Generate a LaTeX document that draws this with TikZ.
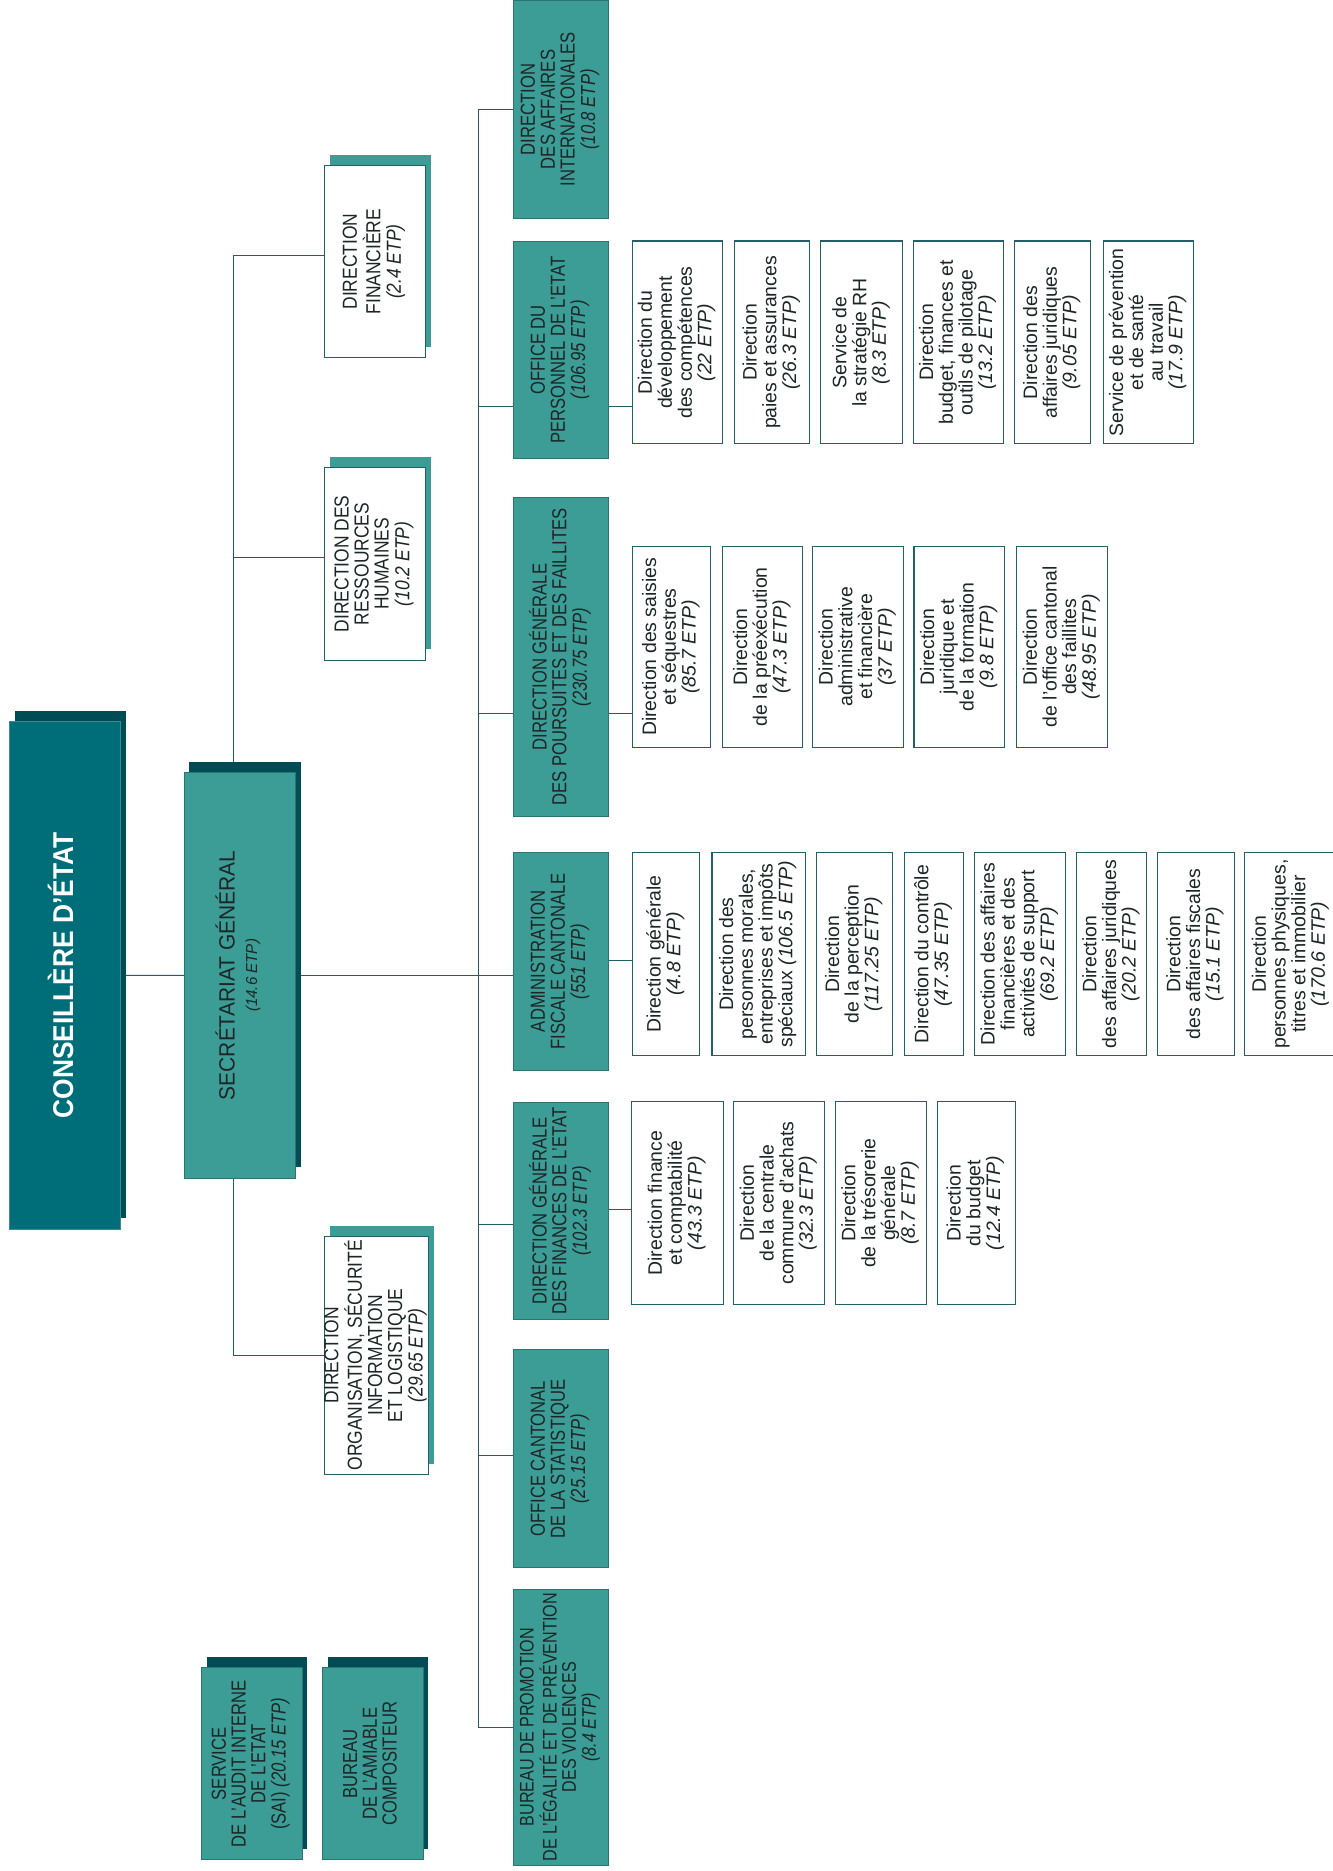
\documentclass[tikz,border=0pt]{standalone}
\usepackage{fontspec}
\usepackage{graphicx}
\setmainfont{Liberation Sans}
\newfontfamily\capf[FakeStretch=0.82]{Liberation Sans}
\newfontfamily\capw[FakeStretch=0.86]{Liberation Sans}
\newfontfamily\sgf[FakeStretch=0.95]{Liberation Sans}
\newfontfamily\ttlf[FakeStretch=0.92]{Liberation Sans}
\usetikzlibrary{backgrounds,shadows}
\definecolor{ceC}{HTML}{006E78}
\definecolor{ceB}{HTML}{3F8A92}
\definecolor{sdark}{HTML}{004C55}
\definecolor{tealc}{HTML}{3C9D96}
\definecolor{tealb}{HTML}{2B7570}
\definecolor{linec}{HTML}{1F5E66}
\definecolor{subb}{HTML}{22606A}
\definecolor{txtc}{HTML}{1C2626}
\newcommand\vtext[1]{\rotatebox{90}{\begin{tabular}{@{}c@{}}#1\end{tabular}}}
\begin{document}
\begin{tikzpicture}[x=1pt,y=-1pt,
  sz/.style 2 args={minimum width=#1pt, minimum height=#2pt},
  basebox/.style={rectangle, anchor=north west, inner sep=0pt, outer sep=0pt, line width=0.8pt},
  cebox/.style={basebox, fill=ceC, draw=ceB, text=white, font=\ttlf\bfseries\fontsize{24}{26}\selectfont, darkshadow},
  sgbox/.style={basebox, fill=tealc, draw=tealb, text=txtc, font=\sgf\fontsize{18.5}{19}\selectfont, darkshadow},
  tbox/.style={basebox, fill=tealc, draw=tealb, text=txtc, font=\capf\fontsize{17}{16}\selectfont},
  wbox/.style={basebox, fill=white, draw=subb, text=txtc, font=\capw\fontsize{17}{16.5}\selectfont, tealshadow},
  sub/.style={basebox, fill=white, draw=subb, line width=0.9pt, text=txtc, font=\fontsize{16.3}{15.6}\selectfont},
  darkshadow/.style={drop shadow={shadow xshift=4.5pt, shadow yshift=9pt, fill=sdark, opacity=1}},
  tealshadow/.style={drop shadow={shadow xshift=4.5pt, shadow yshift=9pt, fill=tealc, opacity=1}},
  conn/.style={draw=linec, line width=0.9pt}
]
\useasboundingbox (0,0) rectangle (1117,1568);

% top levels
\node[cebox, sz={93.4}{425.3}] (ce) at (7.8,604.7) {\vtext{CONSEILLÈRE D’ÉTAT}};
\node[sgbox, sz={93.1}{339.6}] (sg) at (154.3,647.6)
  {\vtext{SECRÉTARIAT GÉNÉRAL\\ \fontsize{13.3}{15}\selectfont\itshape (14.6 ETP)}};

% staff boxes
\node[wbox, sz={84.4}{160.7}] (df) at (271.9,138.9)
  {\vtext{DIRECTION\\FINANCIÈRE\\\textit{(2.4 ETP)}}};
\node[wbox, sz={84.4}{161}] (drh) at (271.9,392.1)
  {\vtext{DIRECTION DES\\RESSOURCES\\HUMAINES\\\textit{(10.2 ETP)}}};
\node[wbox, sz={84.7}{199.5}] (dosil) at (271.8,1036.1)
  {\vtext{DIRECTION\\ORGANISATION, SÉCURITÉ\\INFORMATION\\ET LOGISTIQUE\\\textit{(29.65 ETP)}}};
\node[tbox, darkshadow, sz={84.5}{161.2}] (sai) at (168.6,1397.5)
  {\vtext{SERVICE\\DE L’AUDIT INTERNE\\DE L’ETAT\\(SAI) \textit{(20.15 ETP)}}};
\node[tbox, darkshadow, sz={84.1}{161.2}] (bac) at (270.4,1397.5)
  {\vtext{BUREAU\\DE L’AMIABLE\\COMPOSITEUR}};

% column of directorates
\node[tbox, sz={80}{182.5}] (dai) at (430,0.5)
  {\vtext{DIRECTION\\DES AFFAIRES\\INTERNATIONALES\\\textit{(10.8 ETP)}}};
\node[tbox, sz={80}{182}] (ope) at (430,202.2)
  {\vtext{OFFICE DU\\PERSONNEL DE L’ETAT\\\textit{(106.95 ETP)}}};
\node[tbox, sz={80}{268}] (dgpf) at (430,416.6)
  {\vtext{DIRECTION GÉNÉRALE\\DES POURSUITES ET DES FAILLITES\\\textit{(230.75 ETP)}}};
\node[tbox, sz={80}{183}] (afc) at (430,714.3)
  {\vtext{ADMINISTRATION\\FISCALE CANTONALE\\\textit{(551 ETP)}}};
\node[tbox, sz={80}{182}] (dgfe) at (430,924)
  {\vtext{DIRECTION GÉNÉRALE\\DES FINANCES DE L’ETAT\\\textit{(102.3 ETP)}}};
\node[tbox, sz={80}{183}] (ocstat) at (430,1131)
  {\vtext{OFFICE CANTONAL\\DE LA STATISTIQUE\\\textit{(25.15 ETP)}}};
\node[tbox, sz={80}{231}, font=\capf\fontsize{16.5}{16}\selectfont] (bpev) at (430,1332)
  {\vtext{BUREAU DE PROMOTION\\DE L’ÉGALITÉ ET DE PRÉVENTION\\DES VIOLENCES\\\textit{(8.4 ETP)}}};

% OPE sub-units
\node[sub, sz={75.7}{170}] (ope1) at (529.9,202) {\vtext{Direction du\\développement\\des compétences\\\textit{(22 ETP)}}};
\node[sub, sz={63.3}{170}] (ope2) at (615.4,202) {\vtext{Direction\\paies et assurances\\\textit{(26.3 ETP)}}};
\node[sub, sz={68.6}{170}] (ope3) at (688,202) {\vtext{Service de\\la stratégie RH\\\textit{(8.3 ETP)}}};
\node[sub, sz={75.2}{170}] (ope4) at (765.6,202) {\vtext{Direction\\budget, finances et\\outils de pilotage\\\textit{(13.2 ETP)}}};
\node[sub, sz={63.7}{170}] (ope5) at (850.2,202) {\vtext{Direction des\\affaires juridiques\\\textit{(9.05 ETP)}}};
\node[sub, sz={75.7}{170}] (ope6) at (924.6,202) {\vtext{Service de prévention\\et de santé\\au travail\\\textit{(17.9 ETP)}}};

% DGPF sub-units
\node[sub, sz={65.1}{168.6}] (dgpf1) at (530.3,457.7) {\vtext{Direction des saisies\\et séquestres\\\textit{(85.7 ETP)}}};
\node[sub, sz={67.7}{168.6}] (dgpf2) at (605.2,457.7) {\vtext{Direction\\de la préexécution\\\textit{(47.3 ETP)}}};
\node[sub, sz={76.2}{168.6}] (dgpf3) at (680.9,457.7) {\vtext{Direction\\administrative\\et financière\\\textit{(37 ETP)}}};
\node[sub, sz={76.2}{168.6}] (dgpf4) at (766,457.7) {\vtext{Direction\\juridique et\\de la formation\\\textit{(9.8 ETP)}}};
\node[sub, sz={76.2}{168.6}] (dgpf5) at (852,457.7) {\vtext{Direction\\de l’office cantonal\\des faillites\\\textit{(48.95 ETP)}}};

% AFC sub-units
\node[sub, sz={56.6}{169.5}] (afc1) at (529.9,714.8) {\vtext{Direction générale\\\textit{(4.8 ETP)}}};
\node[sub, sz={78}{169.5}] (afc2) at (596.7,714.8) {\vtext{Direction des\\personnes morales,\\entreprises et impôts\\spéciaux \textit{(106.5 ETP)}}};
\node[sub, sz={64.2}{169.5}] (afc3) at (684,714.8) {\vtext{Direction\\de la perception\\\textit{(117.25 ETP)}}};
\node[sub, sz={49.4}{169.5}] (afc4) at (758,714.8) {\vtext{Direction du contrôle\\\textit{(47.35 ETP)}}};
\node[sub, sz={76.2}{169.5}] (afc5) at (816.8,714.8) {\vtext{Direction des affaires\\financières et des\\activités de support\\\textit{(69.2 ETP)}}};
\node[sub, sz={58.8}{169.5}] (afc6) at (902.3,714.8) {\vtext{Direction\\des affaires juridiques\\\textit{(20.2 ETP)}}};
\node[sub, sz={64.2}{169.5}] (afc7) at (970,714.8) {\vtext{Direction\\des affaires fiscales\\\textit{(15.1 ETP)}}};
\node[sub, sz={78}{169.5}] (afc8) at (1043.1,714.8) {\vtext{Direction\\personnes physiques,\\titres et immobilier\\\textit{(170.6 ETP)}}};

% DGFE sub-units
\node[sub, sz={76.4}{169.7}] (dgfe1) at (529.6,923.4) {\vtext{Direction finance\\et comptabilité\\\textit{(43.3 ETP)}}};
\node[sub, sz={76}{169.7}] (dgfe2) at (615,923.4) {\vtext{Direction\\de la centrale\\commune d’achats\\\textit{(32.3 ETP)}}};
\node[sub, sz={76.4}{169.7}] (dgfe3) at (700,923.4) {\vtext{Direction\\de la trésorerie\\générale\\\textit{(8.7 ETP)}}};
\node[sub, sz={65.3}{169.7}] (dgfe4) at (785.4,923.4) {\vtext{Direction\\du budget\\\textit{(12.4 ETP)}}};

% connector points
\coordinate (lsp) at (196,817.4);
\coordinate (bus) at (400.8,817.4);
\coordinate (opeL) at ([yshift=-47.5pt]ope.west);
\coordinate (opeR) at ([yshift=-47.5pt]ope.east);
\coordinate (dgpfL) at ([yshift=-47.4pt]dgpf.west);
\coordinate (dgpfR) at ([yshift=-47.4pt]dgpf.east);
\coordinate (afcR) at ([yshift=0.8pt]afc.east);
\coordinate (dgfeL) at ([yshift=-11pt]dgfe.west);
\coordinate (dgfeR) at ([yshift=1pt]dgfe.east);
\coordinate (ocL) at ([yshift=2.5pt]ocstat.west);

\begin{scope}[on background layer]
  \draw[conn] (ce.east) -- (sg.west);
  \draw[conn] ([yshift=5pt]df.west) -| (lsp) |- (dosil.west);
  \draw[conn] ([yshift=5.6pt]drh.west) -| (lsp);
  \draw[conn] (sg.east) -- (sg.east -| afc.west);
  \draw[conn] (dai.west) -| (bus) |- (bpev.west);
  \draw[conn] (opeL) -- (opeL -| bus);
  \draw[conn] (dgpfL) -- (dgpfL -| bus);
  \draw[conn] (dgfeL) -- (dgfeL -| bus);
  \draw[conn] (ocL) -- (ocL -| bus);
  \draw[conn] (opeR) -- (opeR -| ope1.west);
  \draw[conn] (dgpfR) -- (dgpfR -| dgpf1.west);
  \draw[conn] (afcR) -- (afcR -| afc1.west);
  \draw[conn] (dgfeR) -- (dgfeR -| dgfe1.west);
\end{scope}
\end{tikzpicture}
\end{document}
